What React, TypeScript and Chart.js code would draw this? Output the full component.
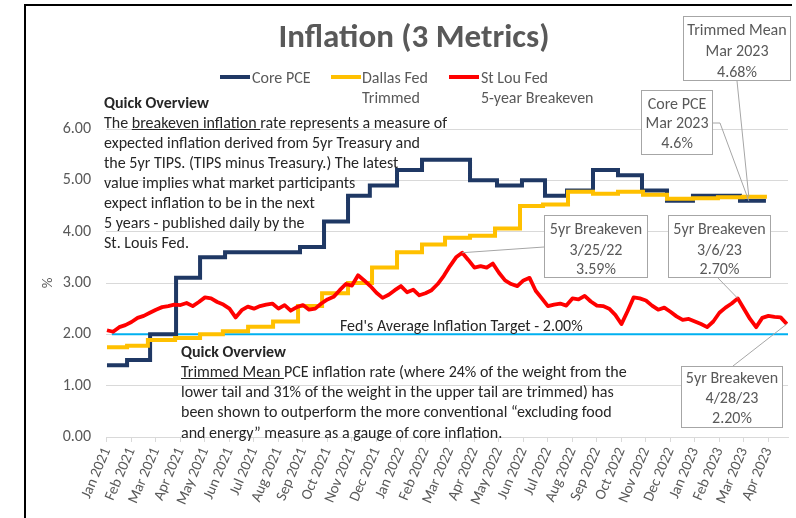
import React, { useEffect, useRef } from "react";
import { Chart, registerables } from "chart.js";

Chart.register(...registerables);

// ---------- DATA ----------
const monthLabels = [
  "Jan 2021", "Feb 2021", "Mar 2021", "Apr 2021", "May 2021", "Jun 2021",
  "Jul 2021", "Aug 2021", "Sep 2021", "Oct 2021", "Nov 2021", "Dec 2021",
  "Jan 2022", "Feb 2022", "Mar 2022", "Apr 2022", "May 2022", "Jun 2022",
  "Jul 2022", "Aug 2022", "Sep 2022", "Oct 2022", "Nov 2022", "Dec 2022",
  "Jan 2023", "Feb 2023", "Mar 2023", "Apr 2023",
];

const yTickValues = [0, 1, 2, 3, 4, 5, 6];

// Core PCE: release position (months since Jan 2021) and value
const corePceMonths = [0, 0.82, 1.76, 2.82, 3.8, 4.82, 7.88, 8.86, 9.84, 10.73, 11.84, 12.86, 14.82, 15.92, 16.94, 17.88, 18.78, 19.84, 20.86, 21.84, 22.86, 23.92, 25.84, 26.9];
const corePceValues = [1.4, 1.5, 2.0, 3.1, 3.5, 3.6, 3.7, 4.2, 4.7, 4.9, 5.2, 5.4, 5.0, 4.9, 5.0, 4.7, 4.8, 5.2, 5.1, 4.8, 4.6, 4.7, 4.6, 4.6];

// Dallas Fed Trimmed Mean PCE
const trimmedMonths = [0, 0.82, 1.67, 2.78, 3.8, 4.73, 5.76, 6.78, 7.8, 8.78, 9.84, 10.82, 11.84, 12.86, 13.8, 14.82, 15.84, 16.86, 17.8, 18.82, 19.84, 20.86, 21.88, 22.86, 23.92, 24.94, 25.96, 26.94];
const trimmedValues = [1.75, 1.78, 1.89, 1.93, 2.0, 2.06, 2.15, 2.25, 2.55, 2.8, 3.0, 3.3, 3.6, 3.75, 3.88, 3.92, 4.06, 4.5, 4.53, 4.78, 4.74, 4.78, 4.72, 4.64, 4.65, 4.67, 4.68, 4.68];

// St Louis Fed 5-year breakeven, read roughly weekly (quarter-month steps from Jan 2021)
const breakevenStep = 0.25;
const breakevenValues = [
  2.08, 2.05, 2.14, 2.18, 2.24, 2.32, 2.36, 2.42, 2.48, 2.53,
  2.55, 2.58, 2.57, 2.61, 2.55, 2.63, 2.72, 2.70, 2.63, 2.58,
  2.50, 2.33, 2.47, 2.54, 2.50, 2.55, 2.58, 2.60, 2.50, 2.57,
  2.46, 2.53, 2.57, 2.48, 2.50, 2.60, 2.68, 2.73, 2.86, 2.98,
  2.95, 3.15, 3.05, 2.94, 2.81, 2.71, 2.77, 2.86, 2.94, 2.82,
  2.87, 2.76, 2.80, 2.86, 2.98, 3.14, 3.33, 3.50, 3.59, 3.45,
  3.30, 3.33, 3.30, 3.38, 3.20, 3.05, 2.98, 2.94, 3.05, 3.10,
  2.85, 2.70, 2.55, 2.58, 2.60, 2.56, 2.70, 2.68, 2.75, 2.64,
  2.56, 2.55, 2.50, 2.38, 2.20, 2.45, 2.72, 2.70, 2.66, 2.56,
  2.48, 2.52, 2.44, 2.35, 2.28, 2.30, 2.25, 2.20, 2.14, 2.25,
  2.42, 2.52, 2.60, 2.70, 2.50, 2.30, 2.14, 2.32, 2.36, 2.34,
  2.33, 2.20,
];

// Fed's average inflation target
const fedTargetValue = 2.0;
const fedTargetMonths = [0.2, 27.8];

// Annotation anchors (data coordinates)
const trimmedAnnot = { month: 26.2, value: 4.68 };
const coreAnnot = { month: 26.2, value: 4.6 };
const be1Annot = { month: 14.5, value: 3.59 };
const be2Annot = { month: 25.75, value: 2.7 };
const be3Annot = { month: 27.75, value: 2.2 };

// ---------- STYLE ----------
const FONT = "Carlito, Calibri, Lato, 'Noto Sans', sans-serif";
const GRAY = "#595959";
const DARK = "#262626";
const NAVY = "#1F3864";
const GOLD = "#FFC000";
const RED = "#FF0000";
const SKY = "#00B0F0";
const GRID = "#D9D9D9";
const BOXLINE = "#A6A6A6";
const TXT = 16;

type TProps = { x: number; y: number; children: React.ReactNode; center?: boolean; size?: number; bold?: boolean; color?: string };
function T({ x, y, children, center, size = TXT, bold, color = GRAY }: TProps) {
  return (
    <div
      style={{
        position: "absolute",
        left: x,
        top: y,
        transform: center ? "translate(-50%, -50%)" : "translateY(-50%)",
        whiteSpace: "nowrap",
        fontSize: size,
        lineHeight: 1,
        fontWeight: bold ? 700 : 400,
        color,
        fontFamily: FONT,
      }}
    >
      {children}
    </div>
  );
}

type BoxProps = { left: number; top: number; width: number; height: number; lines: string[]; ys: number[] };
function Box({ left, top, width, height, lines, ys }: BoxProps) {
  return (
    <>
      <div
        style={{
          position: "absolute",
          left,
          top,
          width,
          height,
          boxSizing: "border-box",
          border: `1px solid ${BOXLINE}`,
          background: "#fff",
        }}
      />
      {lines.map((l, i) => (
        <T key={i} x={left + width / 2} y={ys[i]} center>
          {l}
        </T>
      ))}
    </>
  );
}

export default function App() {
  const canvasRef = useRef<HTMLCanvasElement | null>(null);

  useEffect(() => {
    if (!canvasRef.current) return;

    const leaderPlugin = {
      id: "leaders",
      afterDatasetsDraw(chart: any) {
        const { ctx } = chart;
        const xs = chart.scales.x;
        const ys = chart.scales.y;
        const px = (a: { month: number; value: number }) => [xs.getPixelForValue(a.month), ys.getPixelForValue(a.value)];
        ctx.save();
        ctx.strokeStyle = BOXLINE;
        ctx.lineWidth = 1;
        const path = (pts: number[][]) => {
          ctx.beginPath();
          ctx.moveTo(pts[0][0], pts[0][1]);
          for (let i = 1; i < pts.length; i++) ctx.lineTo(pts[i][0], pts[i][1]);
          ctx.stroke();
        };
        path([[737, 81], px(trimmedAnnot)]);
        path([[713, 123], [720, 123], px(coreAnnot)]);
        path([[544, 247], px(be1Annot)]);
        path([[718, 278], px(be2Annot)]);
        path([[733, 366], px(be3Annot)]);
        ctx.restore();
      },
    };

    const chart = new Chart(canvasRef.current, {
      type: "line",
      data: {
        datasets: [
          {
            label: "St Lou Fed 5-year Breakeven",
            data: breakevenValues.map((v, i) => ({ x: i * breakevenStep, y: v })),
            borderColor: RED,
            borderWidth: 3.8,
            pointRadius: 0,
            tension: 0,
            borderJoinStyle: "round",
          },
          {
            label: "Dallas Fed Trimmed",
            data: trimmedValues.map((v, i) => ({ x: trimmedMonths[i], y: v })),
            borderColor: GOLD,
            borderWidth: 4,
            pointRadius: 0,
            stepped: true,
          },
          {
            label: "Core PCE",
            data: corePceValues.map((v, i) => ({ x: corePceMonths[i], y: v })),
            borderColor: NAVY,
            borderWidth: 4,
            pointRadius: 0,
            stepped: true,
          },
          {
            label: "Fed's Average Inflation Target",
            data: fedTargetMonths.map((m) => ({ x: m, y: fedTargetValue })),
            borderColor: SKY,
            borderWidth: 2,
            pointRadius: 0,
          },
        ],
      } as any,
      options: {
        responsive: false,
        animation: false,
        layout: { padding: { top: 129, right: 8, left: 0, bottom: 0 } },
        plugins: {
          legend: { display: false },
          tooltip: { enabled: false },
          title: { display: false },
        },
        scales: {
          x: {
            type: "linear",
            min: -0.04,
            max: 27.8,
            afterBuildTicks: (s: any) => {
              s.ticks = monthLabels.map((_, i) => ({ value: i }));
            },
            afterFit: (s: any) => {
              s.height = 81;
            },
            ticks: {
              autoSkip: false,
              minRotation: 67,
              maxRotation: 67,
              padding: 3,
              color: GRAY,
              font: { family: FONT, size: 15 },
              callback: (v: any) => monthLabels[v as number] ?? "",
            },
            grid: { drawOnChartArea: false, drawTicks: true, tickLength: 5, color: GRID },
            border: { color: GRID },
          },
          y: {
            min: 0,
            max: 6,
            afterBuildTicks: (s: any) => {
              s.ticks = yTickValues.map((v) => ({ value: v }));
            },
            afterFit: (s: any) => {
              s.width = 106;
            },
            ticks: {
              padding: 15,
              color: GRAY,
              font: { family: FONT, size: 16 },
              callback: (v: any) => Number(v).toFixed(2),
            },
            grid: { color: GRID, drawTicks: false },
            border: { display: false },
          },
        },
      } as any,
      plugins: [leaderPlugin],
    });

    return () => chart.destroy();
  }, []);

  return (
    <div style={{ position: "absolute", left: 0, top: 0, width: 796, height: 518, overflow: "hidden", background: "#fff", fontFamily: FONT }}>
      <canvas ref={canvasRef} width={796} height={518} style={{ position: "absolute", left: 0, top: 0, width: 796, height: 518 }} />

      {/* frame */}
      <div style={{ position: "absolute", left: 24, top: 4, width: 766, height: 530, borderLeft: "2px solid #000", borderTop: "2px solid #000" }} />

      {/* title */}
      <T x={414} y={36} center size={33} bold color={GRAY}>Inflation (3 Metrics)</T>

      {/* legend */}
      <div style={{ position: "absolute", left: 220, top: 75, width: 30, height: 4, background: NAVY }} />
      <T x={252} y={78}>Core PCE</T>
      <div style={{ position: "absolute", left: 331, top: 75, width: 30, height: 4, background: GOLD }} />
      <T x={362} y={78}>Dallas Fed</T>
      <T x={362} y={98}>Trimmed</T>
      <div style={{ position: "absolute", left: 449, top: 75, width: 30, height: 4, background: RED }} />
      <T x={481} y={78}>St Lou Fed</T>
      <T x={481} y={98}>5-year Breakeven</T>

      {/* y axis title */}
      <div style={{ position: "absolute", left: 47, top: 283, transform: "translate(-50%, -50%) rotate(-90deg)", fontSize: 15, color: GRAY, fontFamily: FONT, lineHeight: 1 }}>%</div>

      {/* Quick overview 1 */}
      <T x={104} y={103} bold color={DARK}>Quick Overview</T>
      <T x={104} y={123} color={DARK}>The <u>breakeven inflation </u>rate represents a measure of</T>
      <T x={104} y={143} color={DARK}>expected inflation derived from 5yr Treasury and</T>
      <T x={104} y={163} color={DARK}>the 5yr TIPS. (TIPS minus Treasury.) The latest</T>
      <T x={104} y={183} color={DARK}>value implies what market participants</T>
      <T x={104} y={203} color={DARK}>expect inflation to be in the next</T>
      <T x={104} y={223} color={DARK}>5 years - published daily by the</T>
      <T x={104} y={243} color={DARK}>St. Louis Fed.</T>

      {/* Fed target */}
      <T x={340} y={326} color={DARK}>Fed's Average Inflation Target - 2.00%</T>

      {/* Quick overview 2 */}
      <T x={181} y={352} bold color={DARK}>Quick Overview</T>
      <T x={181} y={372} color={DARK}><u>Trimmed Mean </u>PCE inflation rate (where 24% of the weight from the</T>
      <T x={181} y={392} color={DARK}>lower tail and 31% of the weight in the upper tail are trimmed) has</T>
      <T x={181} y={412} color={DARK}>been shown to outperform the more conventional “excluding food</T>
      <T x={181} y={433} color={DARK}>and energy” measure as a gauge of core inflation.</T>

      {/* annotation boxes */}
      <Box left={683} top={16} width={108} height={65} lines={["Trimmed Mean", "Mar 2023", "4.68%"]} ys={[30, 51, 72]} />
      <Box left={641} top={90} width={72} height={65} lines={["Core PCE", "Mar 2023", "4.6%"]} ys={[104, 123, 143]} />
      <Box left={544} top={215} width={104} height={63} lines={["5yr Breakeven", "3/25/22", "3.59%"]} ys={[229, 250, 269]} />
      <Box left={668} top={215} width={103} height={63} lines={["5yr Breakeven", "3/6/23", "2.70%"]} ys={[229, 250, 269]} />
      <Box left={681} top={366} width={102} height={62} lines={["5yr Breakeven", "4/28/23", "2.20%"]} ys={[378, 398, 418]} />
    </div>
  );
}
